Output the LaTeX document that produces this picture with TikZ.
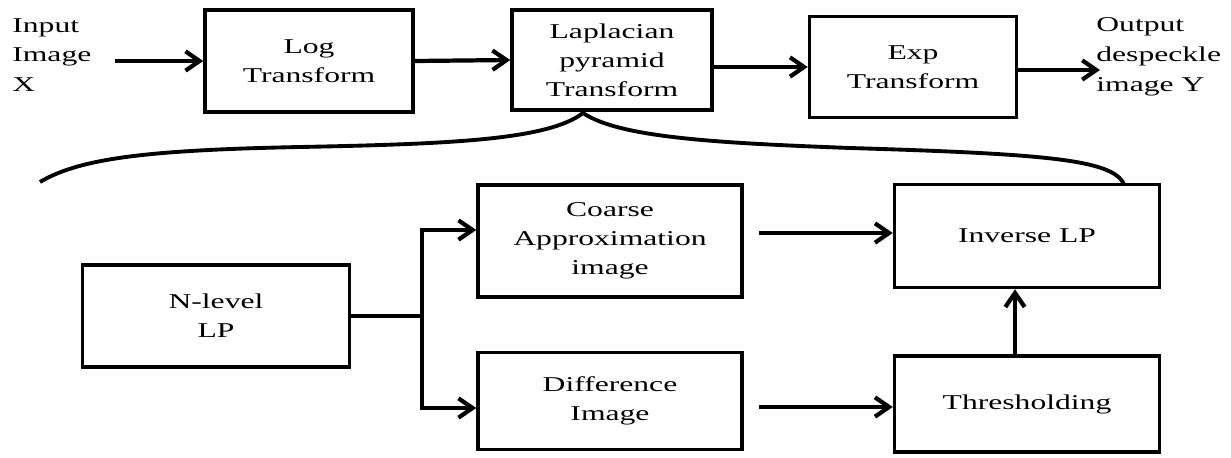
\documentclass[tikz,border=0pt]{standalone}
\usepackage{fontspec}
\setmainfont[FakeStretch=1.5]{Liberation Serif}
\usetikzlibrary{arrows.meta}
\tikzset{
  blk/.style={draw, line width=2pt, align=center, inner sep=0pt, font=\fontsize{12}{16.5}\selectfont},
  lbl/.style={align=left, inner sep=0pt, font=\fontsize{12}{17}\selectfont},
  arr/.style={line width=2.4pt, -{Straight Barb[length=8pt,width=11pt]}}
}
\begin{document}
\begin{tikzpicture}[x=0.02cm, y=-0.02cm]
    \useasboundingbox (0,0) rectangle (1231,457);
    % top row
    \node[lbl, anchor=west] (inp) at (12,55) {Input\\Image\\X};
    \node[blk, minimum width=4.16cm, minimum height=2.04cm] (logt) at (309,61) {Log\\Transform};
    \node[blk, minimum width=4.0cm, minimum height=2.0cm] (lapt) at (612,60) {Laplacian\\pyramid\\Transform};
    \node[blk, minimum width=4.14cm, minimum height=2.02cm] (expt) at (913,67) {Exp\\Transform};
    \node[lbl, anchor=west] (outp) at (1096,57) {Output\\despeckle\\image Y};
    \coordinate (inarr) at (115,61);
    \coordinate (outarr) at (1100,70);
    \draw[arr] (inarr) -- (logt.west);
    \draw[arr] (logt.east) -- (lapt.west);
    \draw[arr] (lapt.east |- expt.west) -- (expt.west);
    \draw[arr] (expt.east |- outarr) -- (outarr);
    % brace
    \coordinate (brl) at (40,182);
    \coordinate (brt) at (583,113);
    \coordinate (brr) at (1124,184);
    \draw[line width=2.2pt] (brl) .. controls (80,158) and (150,150) .. (300,147)
        .. controls (450,144) and (548,140) .. (brt)
        .. controls (620,138) and (720,143) .. (850,148)
        .. controls (1050,154) and (1112,160) .. (brr);
    % bottom part
    \node[blk, minimum width=5.34cm, minimum height=2.04cm] (nlp) at (216,316) {N-level\\LP};
    \node[blk, minimum width=5.28cm, minimum height=2.24cm] (coarse) at (610,241) {Coarse\\Approximation\\image};
    \node[blk, minimum width=5.28cm, minimum height=1.94cm] (diff) at (610,401) {Difference\\Image};
    \node[blk, minimum width=5.3cm, minimum height=2.06cm] (inv) at (1027,236) {Inverse LP};
    \node[blk, minimum width=5.3cm, minimum height=1.92cm] (thr) at (1027,404) {Thresholding};
    \coordinate (jn) at (422,316);
    \coordinate (jup) at (422,230);
    \coordinate (jdn) at (422,408);
    \draw[line width=2.4pt] (nlp.east) -- (jn);
    \draw[arr] (jn) -- (jup) -- (coarse.west |- jup);
    \draw[arr] (jn) -- (jdn) -- (diff.west |- jdn);
    \coordinate (ca) at (759,233);
    \coordinate (da) at (759,407);
    \draw[arr] (ca) -- (inv.west |- ca);
    \draw[arr] (da) -- (thr.west |- da);
    \draw[arr] ([xshift=-0.24cm]thr.north) -- ([xshift=-0.24cm]inv.south);
\end{tikzpicture}
\end{document}
